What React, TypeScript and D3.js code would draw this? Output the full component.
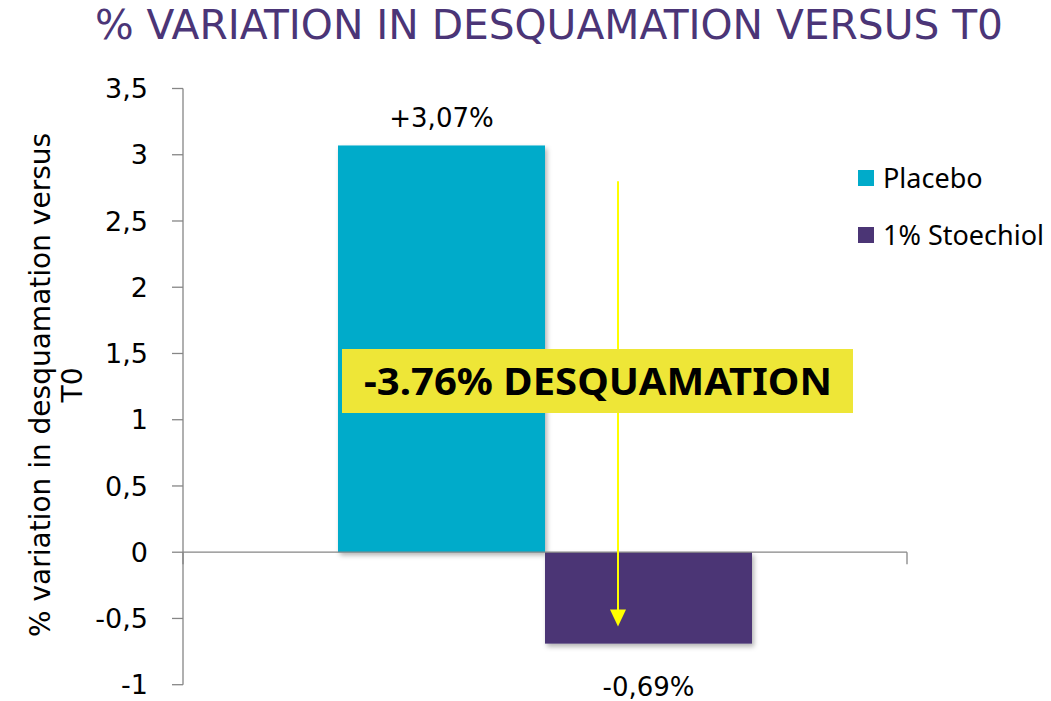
import * as d3 from "d3";

const categories = [""];
const series = ["Placebo", "1% Stoechiol"];
const values = [3.07, -0.69];
const valueLabels = ["+3,07%", "-0,69%"];
const colors = ["#00ABCA", "#4B3575"];
const yTicks = [-1, -0.5, 0, 0.5, 1, 1.5, 2, 2.5, 3, 3.5];
const title = "% VARIATION IN DESQUAMATION VERSUS T0";
const yLabelLines = ["% variation in desquamation versus", "T0"];
const callout = "-3.76% DESQUAMATION";
const arrowFromTo = [2.8, -0.56];

export default function App() {
  const width = 1051,
    height = 701;
  const plot = { left: 183, right: 907, top: 88.5, bottom: 684.7 };

  const y = d3.scaleLinear().domain([-1, 3.5]).range([plot.bottom, plot.top]);
  const x = d3
    .scaleBand()
    .domain(categories)
    .range([plot.left, plot.right])
    .paddingInner(0)
    .paddingOuter(0);
  // bars take 414 of 724px inside the category
  const inner = d3
    .scaleBand()
    .domain(series)
    .range([155, x.bandwidth() - 155])
    .padding(0);

  const fmt = (v) => String(v).replace(".", ",");
  const axisColor = "#868686";
  const arrowX = 618;
  const tipY = y(arrowFromTo[1]);

  return (
    <svg
      width={width}
      height={height}
      style={{ position: "absolute", left: 0, top: 0 }}
    >
      <defs>
        <filter id="shadow" x="-10%" y="-10%" width="130%" height="130%">
          <feDropShadow dx="2" dy="3" stdDeviation="2.5" floodColor="#000" floodOpacity="0.3" />
        </filter>
      </defs>
      <rect width={width} height={height} fill="#fff" />

      <text
        x={549}
        y={39}
        textAnchor="middle"
        fill="#4B3577"
        fontFamily="DejaVu Sans Condensed, DejaVu Sans"
        fontSize={40}
        textLength={908}
        lengthAdjust="spacingAndGlyphs"
      >
        {title}
      </text>

      {/* y label */}
      <g transform={`translate(50, 385) rotate(-90)`}>
        {yLabelLines.map((l, i) => (
          <text
            key={i}
            x={0}
            y={i * 32}
            textAnchor="middle"
            fontFamily="DejaVu Sans"
            fontSize={28}
            fill="#000"
          >
            {l}
          </text>
        ))}
      </g>

      {/* y axis */}
      <line x1={plot.left} x2={plot.left} y1={plot.top} y2={plot.bottom} stroke={axisColor} strokeWidth={1.3} />
      {yTicks.map((t) => (
        <g key={t}>
          <line x1={plot.left - 11} x2={plot.left} y1={y(t)} y2={y(t)} stroke={axisColor} strokeWidth={1.3} />
          <text
            x={148}
            y={y(t)}
            dy="0.36em"
            textAnchor="end"
            fontFamily="DejaVu Sans"
            fontSize={27}
            fill="#000"
          >
            {fmt(t)}
          </text>
        </g>
      ))}

      {/* bars */}
      {series.map((s, i) => {
        const v = values[i];
        const bx = x(categories[0]) + inner(s);
        return (
          <rect
            key={s}
            x={bx}
            y={y(Math.max(0, v))}
            width={inner.bandwidth()}
            height={Math.abs(y(v) - y(0))}
            fill={colors[i]}
            filter="url(#shadow)"
          />
        );
      })}

      {/* zero / category axis */}
      <line x1={plot.left} x2={plot.right} y1={y(0)} y2={y(0)} stroke={axisColor} strokeWidth={1.3} />
      {[plot.left, plot.right].map((px) => (
        <line key={px} x1={px} x2={px} y1={y(0)} y2={y(0) + 12} stroke={axisColor} strokeWidth={1.3} />
      ))}

      {/* value labels */}
      {series.map((s, i) => {
        const v = values[i];
        const cx = x(categories[0]) + inner(s) + inner.bandwidth() / 2;
        const ly = v >= 0 ? y(v) - 18 : y(v) + 52;
        return (
          <text
            key={s}
            x={cx}
            y={ly}
            textAnchor="middle"
            fontFamily="DejaVu Sans"
            fontSize={26}
            fill="#000"
          >
            {valueLabels[i]}
          </text>
        );
      })}

      {/* arrow */}
      <line
        x1={arrowX}
        x2={arrowX}
        y1={y(arrowFromTo[0])}
        y2={tipY - 15}
        stroke="#FFFF00"
        strokeWidth={2}
      />
      <path
        d={`M${arrowX - 8},${tipY - 17} L${arrowX + 8},${tipY - 17} L${arrowX},${tipY} Z`}
        fill="#FFFF00"
      />

      {/* callout */}
      <rect x={342} y={349} width={511} height={64} fill="#EEE637" />
      <text
        x={598}
        y={395}
        textAnchor="middle"
        fontFamily="Noto Sans, Open Sans"
        fontWeight="bold"
        fontSize={37}
        textLength={468}
        lengthAdjust="spacingAndGlyphs"
        fill="#000"
      >
        {callout}
      </text>

      {/* legend */}
      {series.map((s, i) => (
        <g key={s} transform={`translate(858, ${170 + i * 57})`}>
          <rect width={16} height={16} fill={colors[i]} />
          <text x={25} y={17.5} fontFamily="Noto Sans, Lato" fontSize={27} fill="#000">
            {s}
          </text>
        </g>
      ))}
    </svg>
  );
}
